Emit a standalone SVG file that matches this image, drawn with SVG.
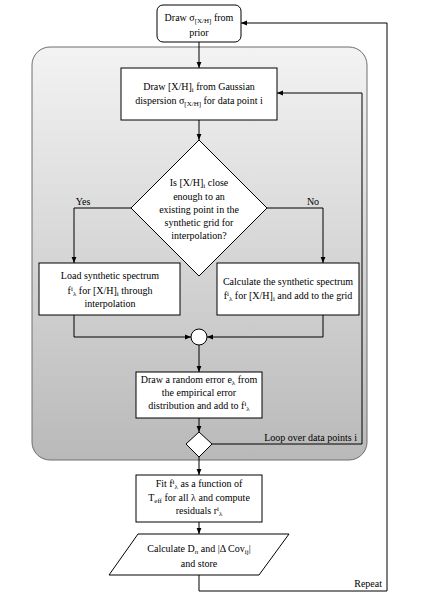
<svg xmlns="http://www.w3.org/2000/svg" width="432" height="611" viewBox="0 0 432 611">
<defs>
<linearGradient id="panelGrad" x1="0" y1="0" x2="0" y2="1">
<stop offset="0" stop-color="#f3f3f3"/>
<stop offset="1" stop-color="#b9b9b9"/>
</linearGradient>
<marker id="arr" viewBox="0 0 10 10" refX="10" refY="5" markerWidth="6" markerHeight="6" orient="auto" markerUnits="userSpaceOnUse">
<path d="M0,1 L10,5 L0,9 z" fill="#000"/>
</marker>
</defs>
<style>
text{font-family:"Liberation Serif","Times New Roman",serif;font-size:10px;fill:#000;text-anchor:middle}
.node{fill:#fff;stroke:#000;stroke-width:1}
.conn{fill:none;stroke:#000;stroke-width:1;marker-end:url(#arr)}
.s{font-size:7px}
</style>
<rect width="432" height="611" fill="#fff"/>
<g id="panel">
<rect x="32" y="47" width="335" height="413" rx="18" ry="18" fill="url(#panelGrad)" stroke="#6e6e6e" stroke-width="1"/>
</g>
<g id="connectors">
<path class="conn" d="M199,42 L199,68"/>
<path class="conn" d="M199,120 L199,140"/>
<path class="conn" d="M131,208 L74,208 L74,263"/>
<path class="conn" d="M267,208 L323,208 L323,263"/>
<path class="conn" d="M74,315 L74,337 L191,337"/>
<path class="conn" d="M323,315 L323,337 L207,337"/>
<path class="conn" d="M199,345 L199,372"/>
<path class="conn" d="M199,418 L199,432"/>
<path class="conn" d="M212,444 L362,444 L362,93 L277,93"/>
<path class="conn" d="M199,457 L199,475"/>
<path class="conn" d="M199,522 L199,534"/>
<path class="conn" d="M199,575 L199,591 L387,591 L387,23 L241,23"/>
<text x="83" y="205">Yes</text>
<text x="313" y="205">No</text>
<text x="357" y="441" style="text-anchor:end">Loop over data points i</text>
<text x="382" y="587" style="text-anchor:end">Repeat</text>
</g>
<g id="start">
<rect class="node" x="157" y="5" width="84" height="37" rx="6" ry="6"/>
<text x="199" y="21">Draw σ<tspan class="s" dy="2">[X/H]</tspan><tspan dy="-2"> from</tspan></text>
<text x="199" y="36">prior</text>
</g>
<g id="drawXH">
<rect class="node" x="121" y="68" width="156" height="52"/>
<text x="199" y="90">Draw [X/H]<tspan class="s" dy="2">i</tspan><tspan dy="-2"> from Gaussian</tspan></text>
<text x="199" y="104">dispersion σ<tspan class="s" dy="2">[X/H]</tspan><tspan dy="-2"> for data point i</tspan></text>
</g>
<g id="decision">
<polygon class="node" points="199,140 267,208 199,276 131,208"/>
<text x="199" y="186">Is [X/H]<tspan class="s" dy="2">i</tspan><tspan dy="-2"> close</tspan></text>
<text x="199" y="200">enough to an</text>
<text x="199" y="213">existing  point in the</text>
<text x="199" y="226">synthetic grid for</text>
<text x="199" y="239">interpolation?</text>
</g>
<g id="load">
<rect class="node" x="39" y="263" width="141" height="52"/>
<text x="110" y="279">Load synthetic spectrum</text>
<text x="110" y="294">f<tspan class="s" dy="-3">i</tspan><tspan class="s" dy="5">λ</tspan><tspan dy="-2"> for [X/H]</tspan><tspan class="s" dy="2">i</tspan><tspan dy="-2"> through</tspan></text>
<text x="110" y="307">interpolation</text>
</g>
<g id="calc">
<rect class="node" x="217" y="263" width="142" height="52"/>
<text x="288" y="285">Calculate the synthetic spectrum</text>
<text x="288" y="299">f<tspan class="s" dy="-3">i</tspan><tspan class="s" dy="5">λ</tspan><tspan dy="-2"> for [X/H]</tspan><tspan class="s" dy="2">i</tspan><tspan dy="-2"> and add to the grid</tspan></text>
</g>
<g id="merge">
<circle class="node" cx="199" cy="337" r="8"/>
</g>
<g id="error">
<rect class="node" x="136" y="372" width="126" height="46"/>
<text x="199" y="383">Draw a random error e<tspan class="s" dy="2">λ</tspan><tspan dy="-2"> from</tspan></text>
<text x="199" y="396">the empirical error</text>
<text x="199" y="409">distribution and add to f<tspan class="s" dy="-3">i</tspan><tspan class="s" dy="5">λ</tspan></text>
</g>
<g id="loop">
<polygon class="node" points="199,432 212,444 199,457 186,444"/>
</g>
<g id="fit">
<rect class="node" x="136" y="475" width="126" height="47"/>
<text x="199" y="487">Fit f<tspan class="s" dy="-3">i</tspan><tspan class="s" dy="5">λ</tspan><tspan dy="-2"> as a function of</tspan></text>
<text x="199" y="501">T<tspan class="s" dy="2">eff</tspan><tspan dy="-2"> for all λ and compute</tspan></text>
<text x="199" y="514">residuals r<tspan class="s" dy="-3">i</tspan><tspan class="s" dy="5">λ</tspan></text>
</g>
<g id="store">
<polygon class="node" points="138,534 289,534 259,575 109,575"/>
<text x="199" y="552">Calculate D<tspan class="s" dy="2" font-style="italic">n</tspan><tspan dy="-2"> and |Δ Cov</tspan><tspan class="s" dy="2">ij</tspan><tspan dy="-2">|</tspan></text>
<text x="199" y="567">and store</text>
</g>
</svg>
